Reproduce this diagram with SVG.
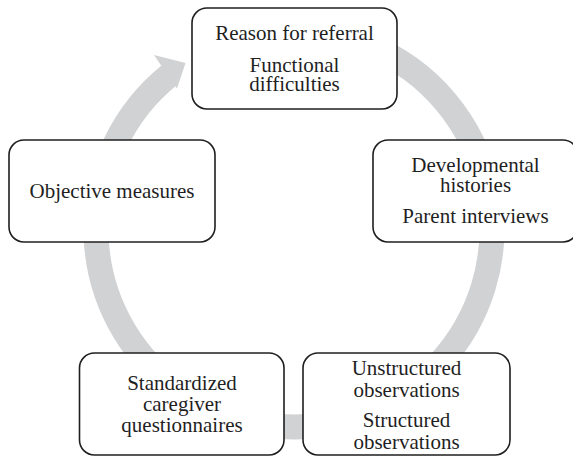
<svg xmlns="http://www.w3.org/2000/svg" width="573" height="456" viewBox="0 0 573 456">
  <style>
    .box { fill: #ffffff; stroke: #1f1f1f; stroke-width: 1.6; }
    .lbl { font-family: "Liberation Serif", "Times New Roman", serif; font-size: 21px; fill: #1f1f1f; text-anchor: middle; }
    .ring { fill: none; stroke: #d1d2d4; stroke-width: 25; stroke-linecap: butt; }
    .head { fill: #d1d2d4; stroke: none; }
  </style>

  <!-- circular flow arrow running clockwise behind the boxes -->
  <g id="connectors">
    <path class="ring" d="M294,31 A198,198 0 1 1 169.4,75.1"/>
    <polygon class="head" points="154,55 185.5,63 177,88.5 171,80"/>
  </g>

  <g id="node-referral">
    <rect class="box" x="192" y="8" width="205" height="101" rx="15" ry="15"/>
    <text class="lbl" x="294.5" y="40">Reason for referral</text>
    <text class="lbl" x="294.5" y="71.7">Functional</text>
    <text class="lbl" x="294.5" y="91">difficulties</text>
  </g>

  <g id="node-histories">
    <rect class="box" x="373" y="140" width="205" height="102" rx="15" ry="15"/>
    <text class="lbl" x="475.5" y="172">Developmental</text>
    <text class="lbl" x="475.5" y="191.5">histories</text>
    <text class="lbl" x="475.5" y="222.5">Parent interviews</text>
  </g>

  <g id="node-observations">
    <rect class="box" x="303" y="353" width="207" height="102" rx="15" ry="15"/>
    <text class="lbl" x="406.5" y="374.5">Unstructured</text>
    <text class="lbl" x="406.5" y="396.5">observations</text>
    <text class="lbl" x="406.5" y="427">Structured</text>
    <text class="lbl" x="406.5" y="448.5">observations</text>
  </g>

  <g id="node-questionnaires">
    <rect class="box" x="79.5" y="353" width="204.5" height="102" rx="15" ry="15"/>
    <text class="lbl" x="182" y="389.5">Standardized</text>
    <text class="lbl" x="182" y="410.5">caregiver</text>
    <text class="lbl" x="182" y="431.5">questionnaires</text>
  </g>

  <g id="node-objective">
    <rect class="box" x="9" y="140" width="206" height="102" rx="15" ry="15"/>
    <text class="lbl" x="112" y="198">Objective measures</text>
  </g>
</svg>
